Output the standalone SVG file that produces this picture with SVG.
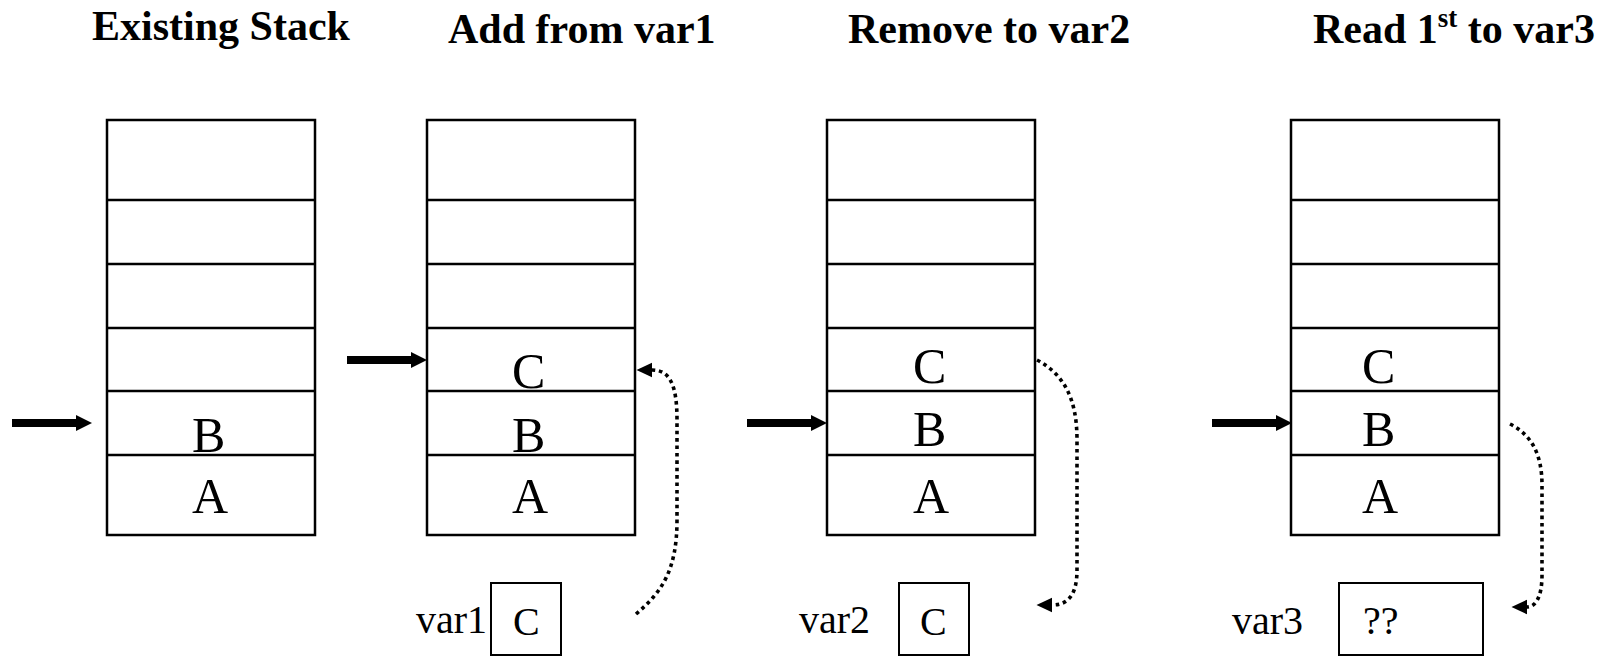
<svg xmlns="http://www.w3.org/2000/svg" width="1608" height="657" viewBox="0 0 1608 657">
  <style>
    .title { font-family: "Liberation Serif", "Times New Roman", serif; font-weight: bold; font-size: 42px; fill: #000; }
    .cell { font-family: "Liberation Serif", "Times New Roman", serif; font-size: 50px; fill: #000; }
    .var { font-family: "Liberation Serif", "Times New Roman", serif; font-size: 40px; fill: #000; }
    .frame { fill: #fff; stroke: #000; stroke-width: 2.5; }
    .row { stroke: #000; stroke-width: 2.5; }
    .vbox { fill: #fff; stroke: #000; stroke-width: 2; }
    .ptr { stroke: #000; stroke-width: 8; fill: none; }
    .flow { stroke: #000; stroke-width: 3.6; stroke-dasharray: 3.6 3.8; fill: none; }
  </style>
  <defs>
    <marker id="ptrHead" markerUnits="userSpaceOnUse" markerWidth="18" markerHeight="18" viewBox="0 -9 18 18" refX="0" refY="0" orient="auto">
      <path d="M0,-8 L16,0 L0,8 z" fill="#000"/>
    </marker>
    <marker id="flowHead" markerUnits="userSpaceOnUse" markerWidth="18" markerHeight="18" viewBox="0 -9 18 18" refX="0" refY="0" orient="auto">
      <path d="M0,-7.3 L15.5,0 L0,7.3 z" fill="#000"/>
    </marker>
  </defs>

  <!-- Titles -->
  <text class="title" x="92" y="40">Existing Stack</text>
  <text class="title" x="448" y="43">Add from var1</text>
  <text class="title" x="848" y="43">Remove to var2</text>
  <text class="title" x="1313" y="43">Read 1<tspan font-size="27" dy="-16">st</tspan><tspan dy="16"> to var3</tspan></text>

  <!-- Stack 1: existing -->
  <g id="stack-existing">
    <rect class="frame" x="107" y="120" width="208" height="415"/>
    <line class="row" x1="107" y1="200" x2="315" y2="200"/>
    <line class="row" x1="107" y1="264" x2="315" y2="264"/>
    <line class="row" x1="107" y1="328" x2="315" y2="328"/>
    <line class="row" x1="107" y1="391" x2="315" y2="391"/>
    <line class="row" x1="107" y1="455" x2="315" y2="455"/>
    <text class="cell" x="192" y="452">B</text>
    <text class="cell" x="192" y="513">A</text>
  </g>

  <!-- Stack 2: push -->
  <g id="stack-add">
    <rect class="frame" x="427" y="120" width="208" height="415"/>
    <line class="row" x1="427" y1="200" x2="635" y2="200"/>
    <line class="row" x1="427" y1="264" x2="635" y2="264"/>
    <line class="row" x1="427" y1="328" x2="635" y2="328"/>
    <line class="row" x1="427" y1="391" x2="635" y2="391"/>
    <line class="row" x1="427" y1="455" x2="635" y2="455"/>
    <text class="cell" x="512" y="388">C</text>
    <text class="cell" x="512" y="452">B</text>
    <text class="cell" x="512" y="513">A</text>
  </g>
  <g id="var1">
    <text class="var" x="416" y="633">var1</text>
    <rect class="vbox" x="491" y="583" width="70" height="72"/>
    <text class="var" x="513" y="635">C</text>
  </g>

  <!-- Stack 3: pop -->
  <g id="stack-remove">
    <rect class="frame" x="827" y="120" width="208" height="415"/>
    <line class="row" x1="827" y1="200" x2="1035" y2="200"/>
    <line class="row" x1="827" y1="264" x2="1035" y2="264"/>
    <line class="row" x1="827" y1="328" x2="1035" y2="328"/>
    <line class="row" x1="827" y1="391" x2="1035" y2="391"/>
    <line class="row" x1="827" y1="455" x2="1035" y2="455"/>
    <text class="cell" x="913" y="383">C</text>
    <text class="cell" x="913" y="446">B</text>
    <text class="cell" x="913" y="513">A</text>
  </g>
  <g id="var2">
    <text class="var" x="799" y="633">var2</text>
    <rect class="vbox" x="899" y="583" width="70" height="72"/>
    <text class="var" x="920" y="635">C</text>
  </g>

  <!-- Stack 4: peek -->
  <g id="stack-read">
    <rect class="frame" x="1291" y="120" width="208" height="415"/>
    <line class="row" x1="1291" y1="200" x2="1499" y2="200"/>
    <line class="row" x1="1291" y1="264" x2="1499" y2="264"/>
    <line class="row" x1="1291" y1="328" x2="1499" y2="328"/>
    <line class="row" x1="1291" y1="391" x2="1499" y2="391"/>
    <line class="row" x1="1291" y1="455" x2="1499" y2="455"/>
    <text class="cell" x="1362" y="383">C</text>
    <text class="cell" x="1362" y="446">B</text>
    <text class="cell" x="1362" y="513">A</text>
  </g>
  <g id="var3">
    <text class="var" x="1232" y="634">var3</text>
    <rect class="vbox" x="1339" y="583" width="144" height="72"/>
    <text class="var" x="1363" y="634">??</text>
  </g>

  <!-- Connectors: top-of-stack pointers and data movements -->
  <g id="connectors">
    <line class="ptr" x1="12" y1="423" x2="76" y2="423" marker-end="url(#ptrHead)"/>
    <line class="ptr" x1="347" y1="360" x2="411" y2="360" marker-end="url(#ptrHead)"/>
    <line class="ptr" x1="747" y1="423" x2="811" y2="423" marker-end="url(#ptrHead)"/>
    <line class="ptr" x1="1212" y1="423" x2="1276" y2="423" marker-end="url(#ptrHead)"/>

    <path class="flow" d="M636 614 C662 592, 677 570, 677 520 L677 420 C677 385, 670 370, 652 370" marker-end="url(#flowHead)"/>
    <path class="flow" d="M1037 360 C1065 375, 1077 400, 1077 440 L1077 570 C1077 595, 1068 605, 1052 605" marker-end="url(#flowHead)"/>
    <path class="flow" d="M1510 424 C1532 435, 1542 455, 1542 485 L1542 575 C1542 598, 1535 607, 1527 607" marker-end="url(#flowHead)"/>
  </g>
</svg>
